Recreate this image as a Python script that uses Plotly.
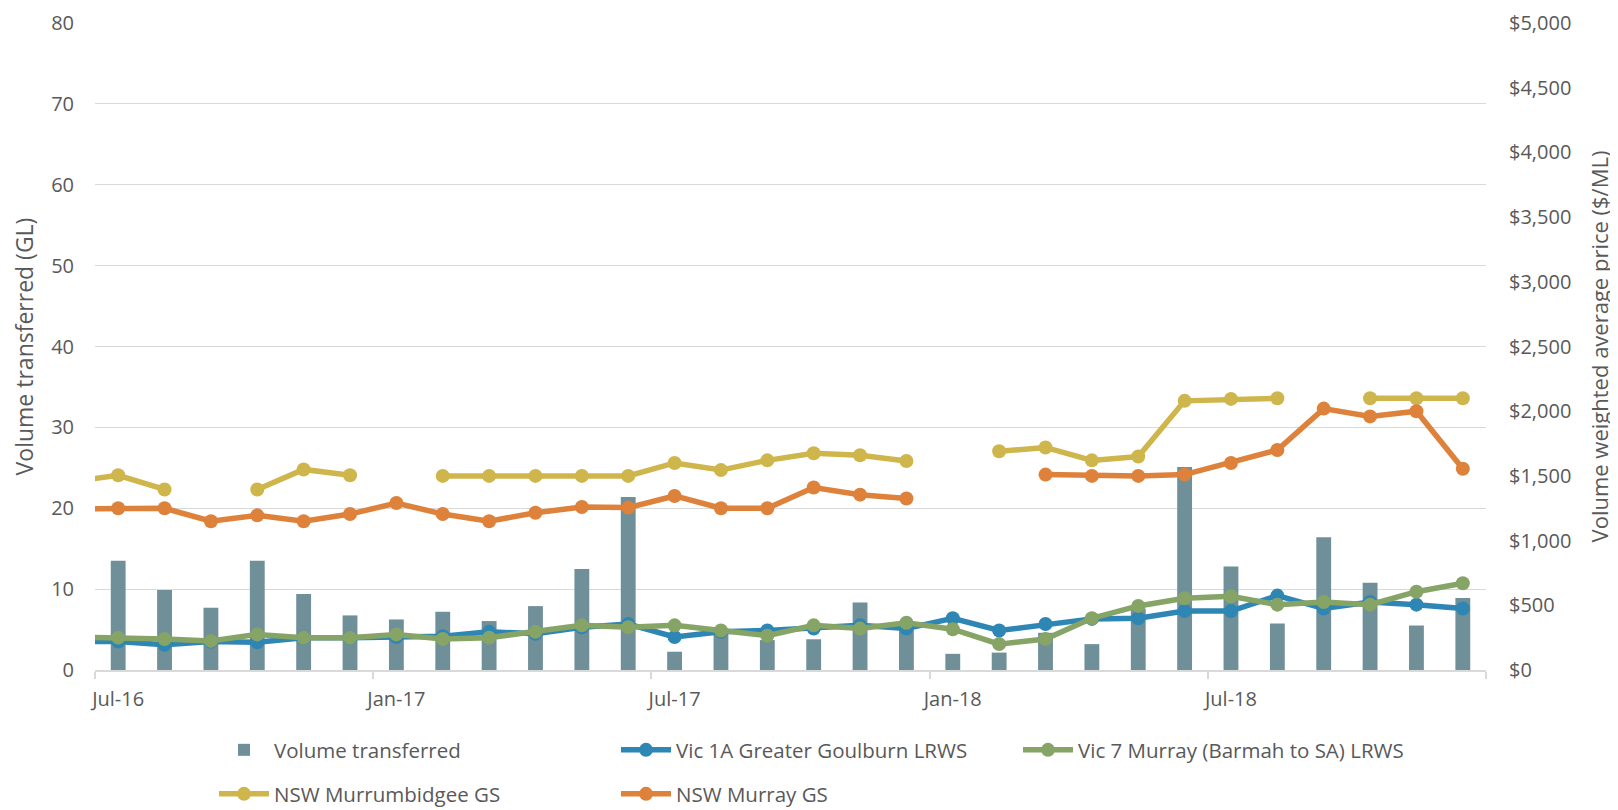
import plotly.graph_objects as go

# ---------------- data ----------------
# first entry (Jun-16) lies just outside the visible axis; lines run into the left edge
months = ["Jun-16",
          "Jul-16", "Aug-16", "Sep-16", "Oct-16", "Nov-16", "Dec-16",
          "Jan-17", "Feb-17", "Mar-17", "Apr-17", "May-17", "Jun-17",
          "Jul-17", "Aug-17", "Sep-17", "Oct-17", "Nov-17", "Dec-17",
          "Jan-18", "Feb-18", "Mar-18", "Apr-18", "May-18", "Jun-18",
          "Jul-18", "Aug-18", "Sep-18", "Oct-18", "Nov-18", "Dec-18"]

volume_gl = [None,
             13.5, 9.9, 7.7, 13.5, 9.4, 6.75,
             6.25, 7.2, 6.05, 7.9, 12.5, 21.4,
             2.26, 4.6, 3.7, 3.8, 8.35, 5.5,
             2.0, 2.15, 4.6, 3.2, 7.6, 25.1,
             12.8, 5.75, 16.4, 10.8, 5.5, 8.9]

vic1a_price = [220,
               220, 195, 220, 215, 250, 250,
               255, 260, 295, 280, 330, 355,
               255, 295, 305, 320, 345, 320,
               400, 305, 355, 395, 400, 455,
               455, 575, 475, 525, 505, 475]

vic7_price = [255,
              250, 240, 225, 275, 250, 250,
              275, 240, 250, 295, 345, 330,
              345, 305, 265, 345, 320, 365,
              315, 200, 240, 400, 495, 555,
              570, 505, 525, 505, 605, 670]

murrumbidgee_price = [1455,
                      1505, 1395, None, 1395, 1550, 1505,
                      None, 1500, 1500, 1500, 1500, 1500,
                      1600, 1545, 1620, 1675, 1660, 1615,
                      None, 1690, 1720, 1620, 1650, 2080,
                      2095, 2100, None, 2100, 2100, 2100]

murray_price = [1245,
                1250, 1250, 1150, 1195, 1150, 1205,
                1290, 1205, 1150, 1215, 1260, 1255,
                1345, 1250, 1250, 1410, 1355, 1325,
                None, None, 1510, 1500, 1500, 1510,
                1600, 1700, 2020, 1960, 2000, 1555]

tick_labels = ["Jul-16", "Jan-17", "Jul-17", "Jan-18", "Jul-18"]

# ---------------- positions on category scale ----------------
x = [i - 1 for i in range(len(months))]          # Jul-16 -> 0
label_pos = [months.index(t) - 1 for t in tick_labels]
n_visible = len(months) - 1
boundary_pos = [p - 0.5 for p in range(0, n_visible + 1, 6)]

# ---------------- styling ----------------
FONT = "Open Sans"
GREY = "#595959"
GRID = "#d9d9d9"
BAR = "#6f8f99"
BLUE = "#2e86b4"
GREEN = "#86a466"
YELLOW = "#cfb64c"
ORANGE = "#de813a"

fig = go.Figure()
fig.add_trace(go.Bar(x=x, y=volume_gl, name="Volume transferred",
                     marker=dict(color=BAR, line=dict(width=0)),
                     legend="legend"))

line_specs = [
    ("Vic 1A Greater Goulburn LRWS", vic1a_price, BLUE, "legend"),
    ("Vic 7 Murray (Barmah to SA) LRWS", vic7_price, GREEN, "legend"),
    ("NSW Murrumbidgee GS", murrumbidgee_price, YELLOW, "legend2"),
    ("NSW Murray GS", murray_price, ORANGE, "legend2"),
]
for name, vals, col, lg in line_specs:
    fig.add_trace(go.Scatter(x=x, y=vals, name=name, yaxis="y2",
                             mode="lines+markers", connectgaps=False,
                             line=dict(color=col, width=5.5),
                             marker=dict(color=col, size=14),
                             legend=lg))

# the page body keeps an 8px margin, so the figure is 8px smaller than the window
W, H = 1610, 802

legend_common = dict(orientation="h", xanchor="left", yanchor="middle",
                     xref="container", yref="container",
                     font=dict(family=FONT, size=20.5, color=GREY),
                     entrywidth=337, entrywidthmode="pixels",
                     itemwidth=50,
                     bgcolor="rgba(0,0,0,0)", itemclick=False,
                     traceorder="normal")

fig.update_layout(
    width=W, height=H,
    margin=dict(l=87, r=132, t=15, b=140, pad=0, autoexpand=False),
    paper_bgcolor="white", plot_bgcolor="white",
    font=dict(family=FONT, color=GREY),
    bargap=0.68,
    showlegend=True,
    xaxis=dict(range=[-0.5, n_visible - 0.5], automargin=False,
               tickmode="array", tickvals=label_pos, ticktext=tick_labels,
               ticks="", showgrid=False, zeroline=False,
               showline=True, linecolor=GRID, linewidth=1.5,
               tickfont=dict(family=FONT, size=20, color=GREY),
               ticklabelstandoff=10,
               minor=dict(tickmode="array", tickvals=boundary_pos,
                          ticks="outside", ticklen=7, tickwidth=1.5,
                          tickcolor=GRID, showgrid=False)),
    yaxis=dict(range=[0, 80], dtick=10, tick0=0, automargin=False,
               showgrid=True, gridcolor=GRID, gridwidth=1.3,
               zeroline=False, showline=False, ticks="",
               tickfont=dict(family=FONT, size=20, color=GREY),
               ticklabelstandoff=20,
               title=dict(text="Volume transferred (GL)",
                          font=dict(family=FONT, size=23, color=GREY),
                          standoff=17)),
    yaxis2=dict(range=[0, 5000], dtick=500, tick0=0, automargin=False,
                overlaying="y", side="right",
                showgrid=False, zeroline=False, showline=False, ticks="",
                tickprefix="$", tickformat=",",
                tickfont=dict(family=FONT, size=20, color=GREY),
                ticklabelstandoff=22,
                title=dict(text="Volume weighted average price ($/ML)",
                           font=dict(family=FONT, size=22, color=GREY),
                           standoff=22)),
    legend=dict(x=206 / W, y=1 - 742 / H, **legend_common),
    legend2=dict(x=206 / W, y=1 - 786 / H, **legend_common),
)

fig.write_html("out.html")
